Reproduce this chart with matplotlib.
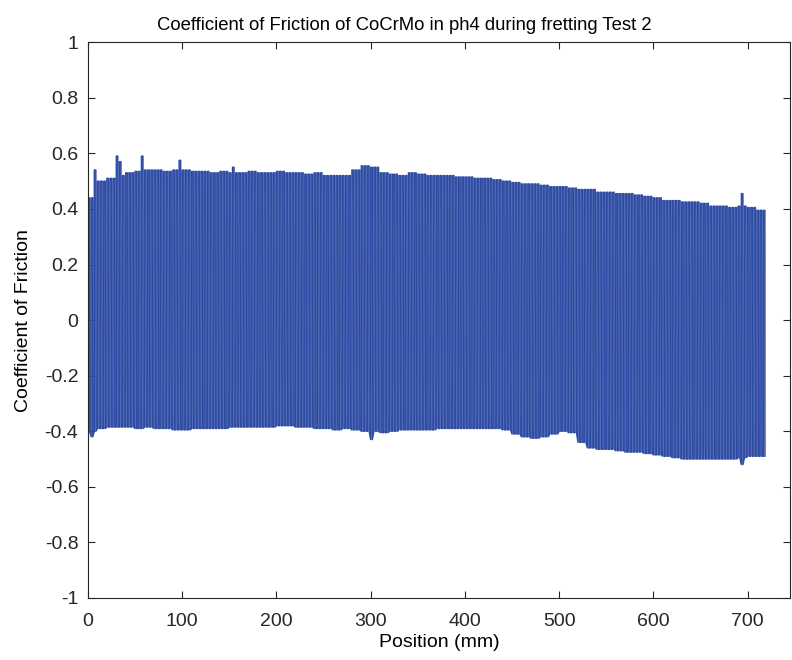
import numpy as np
import matplotlib
matplotlib.use("Agg")
import matplotlib.pyplot as plt

# ============================================================
# DATA
# envelope of the friction signal, one value per 10 mm block
# ============================================================

block_start = np.arange(0, 720, 10)   # mm
cycles_per_block = 3

top_env = [
    0.44, 0.50, 0.51, 0.52, 0.53, 0.535, 0.54, 0.54, 0.535, 0.54,
    0.54, 0.535, 0.535, 0.53, 0.535, 0.53, 0.53, 0.535, 0.53, 0.53,
    0.535, 0.53, 0.53, 0.525, 0.53, 0.52, 0.52, 0.52, 0.54, 0.555,
    0.55, 0.53, 0.525, 0.52, 0.53, 0.525, 0.52, 0.52, 0.52, 0.515,
    0.515, 0.51, 0.51, 0.505, 0.50, 0.495, 0.49, 0.49, 0.485, 0.48,
    0.48, 0.475, 0.47, 0.47, 0.46, 0.46, 0.455, 0.455, 0.45, 0.445,
    0.44, 0.43, 0.43, 0.425, 0.425, 0.42, 0.41, 0.41, 0.405, 0.41,
    0.405, 0.395,
]

bottom_env = [
    -0.40, -0.39, -0.385, -0.385, -0.385, -0.39, -0.385, -0.39, -0.39, -0.395,
    -0.395, -0.39, -0.39, -0.39, -0.39, -0.385, -0.385, -0.385, -0.385, -0.385,
    -0.38, -0.38, -0.385, -0.385, -0.39, -0.39, -0.395, -0.39, -0.395, -0.40,
    -0.40, -0.405, -0.40, -0.395, -0.395, -0.395, -0.395, -0.39, -0.39, -0.39,
    -0.39, -0.39, -0.39, -0.39, -0.395, -0.41, -0.42, -0.425, -0.42, -0.41,
    -0.40, -0.405, -0.44, -0.46, -0.465, -0.465, -0.47, -0.475, -0.475, -0.48,
    -0.485, -0.49, -0.495, -0.50, -0.50, -0.50, -0.50, -0.50, -0.50, -0.495,
    -0.49, -0.49,
]

# single cycles that stick out of the envelope
spike_pos = [7, 29, 33, 58, 96, 154, 695, 5, 300, 693]
spike_val = [0.54, 0.59, 0.57, 0.59, 0.575, 0.55, 0.455, -0.42, -0.43, -0.52]

# ============================================================
# BUILD THE FRICTION TRACE
# each cycle: jump to the top level, hold, drop to the bottom level, hold
# ============================================================

period = 10.0 / cycles_per_block
tops = np.repeat(top_env, cycles_per_block)
bots = np.repeat(bottom_env, cycles_per_block)
starts = np.repeat(block_start, cycles_per_block) + \
    np.tile(np.arange(cycles_per_block) * period, len(block_start))

for p, v in zip(spike_pos, spike_val):
    i = int(np.argmin(np.abs(starts - p)))
    if v > 0:
        tops[i] = v
    else:
        bots[i] = v

phase = [0.0, 0.02, 0.5, 0.52]
level = [0, 1, 1, 0]

xs = []
ys = []
for s, t, b in zip(starts, tops, bots):
    for f, l in zip(phase, level):
        xs.append(s + f * period)
        ys.append(t if l else b)

# ============================================================
# PLOT
# ============================================================

plt.rcParams['font.family'] = ['Liberation Sans', 'DejaVu Sans']

fig = plt.figure(figsize=(7.92, 6.6), dpi=100)
ax = fig.add_axes([0.1111, 0.094, 0.8864, 0.842])

ax.plot(xs, ys, color='#2d4ba3', linewidth=1.05)

ax.set_xlim(0, 745)
ax.set_ylim(-1, 1)
ax.set_xticks(np.arange(0, 701, 100))
ax.set_yticks(np.arange(-1, 1.01, 0.2))
ax.set_yticklabels(['-1', '-0.8', '-0.6', '-0.4', '-0.2', '0',
                    '0.2', '0.4', '0.6', '0.8', '1'])

ax.tick_params(direction='in', length=5, width=0.8, labelsize=14,
               top=True, right=True, colors='#262626')
ax.tick_params(axis='x', pad=11)
ax.tick_params(axis='y', pad=7)
for sp in ax.spines.values():
    sp.set_linewidth(0.8)
    sp.set_color('#262626')

ax.set_xlabel("Position (mm)", fontsize=14, labelpad=3)
ax.set_ylabel("Coefficient of Friction", fontsize=14, labelpad=9)
ax.set_title("Coefficient of Friction of CoCrMo in ph4 during fretting Test 2",
             fontsize=13.3, pad=9, x=0.45)

fig.savefig("out.png", dpi=100)
